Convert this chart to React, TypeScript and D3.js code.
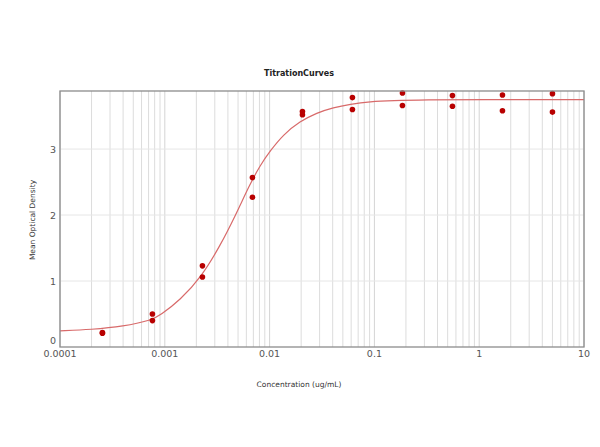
import { useMemo } from 'react'
import * as d3 from 'd3'

// replicate measurements, 1:3 serial dilution (ug/mL)
const concentrations = [0.000254, 0.000762, 0.002286, 0.00686, 0.02058, 0.0617, 0.1852, 0.5556, 1.667, 5]
const odRep1 = [0.22, 0.5, 1.23, 2.57, 3.57, 3.78, 3.85, 3.81, 3.82, 3.84]
const odRep2 = [0.21, 0.4, 1.06, 2.27, 3.52, 3.6, 3.66, 3.65, 3.58, 3.56]

// fitted curve
const curveConc = [0.0001, 0.0002, 0.0004, 0.00076, 0.0009, 0.0014, 0.00225, 0.00336, 0.00468, 0.0065, 0.0081, 0.0101, 0.01352, 0.0195, 0.0282, 0.0406, 0.0585, 0.0908, 0.15, 0.3, 1, 10]
const curveOd = [0.245, 0.265, 0.31, 0.41, 0.48, 0.71, 1.07, 1.53, 1.98, 2.47, 2.75, 2.97, 3.22, 3.42, 3.55, 3.63, 3.68, 3.72, 3.735, 3.745, 3.75, 3.75]

const xTickValues = [0.0001, 0.001, 0.01, 0.1, 1, 10]
const xTickLabels = ['0.0001', '0.001', '0.01', '0.1', '1', '10']
const yTickValues = [0, 1, 2, 3]

const W = 600
const H = 447
const PLOT = { l: 60, r: 584, t: 91, b: 347 }
const FONT = 'Tahoma, "DejaVu Sans", Verdana, sans-serif'

export default function App() {
  const x = useMemo(() => d3.scaleLog().domain([0.0001, 10]).range([PLOT.l, PLOT.r]), [])
  const y = useMemo(() => d3.scaleLinear().domain([0, 3.88]).range([PLOT.b, PLOT.t]), [])

  // minor log gridlines 2..9 per decade
  const minor: number[] = []
  for (let e = -4; e < 1; e++) for (let m = 2; m <= 9; m++) minor.push(m * Math.pow(10, e))

  const pts = curveConc.map((c, i) => [c, curveOd[i]] as [number, number])
  const line = d3.line<[number, number]>().x((d) => x(d[0])).y((d) => y(d[1])).curve(d3.curveBasis)

  const markers = concentrations.flatMap((c, i) => [
    { c, v: odRep1[i] },
    { c, v: odRep2[i] },
  ])

  return (
    <svg width={W} height={H} style={{ position: 'absolute', left: 0, top: 0, background: '#fff' }} fontFamily={FONT}>
      <rect width={W} height={H} fill="#fff" />
      {minor.map((v) => (
        <line key={'m' + v} x1={x(v)} x2={x(v)} y1={PLOT.t} y2={PLOT.b} stroke="#dcdcdc" strokeWidth={1} />
      ))}
      {xTickValues.map((v) => (
        <line key={'M' + v} x1={x(v)} x2={x(v)} y1={PLOT.t} y2={PLOT.b} stroke="#d4d4d4" strokeWidth={1} />
      ))}
      {yTickValues.slice(1).map((v) => (
        <line key={'h' + v} x1={PLOT.l} x2={PLOT.r} y1={y(v)} y2={y(v)} stroke="#e6e6e6" strokeWidth={1} />
      ))}

      <path d={line(pts) ?? ''} fill="none" stroke="#d86a6a" strokeWidth={1.2} />

      {markers.map((m, i) => (
        <circle key={i} cx={x(m.c)} cy={y(m.v)} r={2.8} fill="#b80000" />
      ))}

      <rect x={PLOT.l} y={PLOT.t} width={PLOT.r - PLOT.l} height={PLOT.b - PLOT.t} fill="none" stroke="#8c8c8c" strokeWidth={1.3} />

      {xTickValues.map((v, i) => (
        <text key={'xt' + v} x={x(v)} y={357} textAnchor="middle" fontSize={9.5} fill="#555">
          {xTickLabels[i]}
        </text>
      ))}
      {yTickValues.map((v) => (
        <text key={'yt' + v} x={56} y={v === 0 ? y(v) - 3 : y(v) + 3.5} textAnchor="end" fontSize={9.5} fill="#555">
          {v}
        </text>
      ))}

      <text x={299} y={76} textAnchor="middle" fontSize={8} fontWeight="bold" fill="#222">TitrationCurves</text>
      <text x={299} y={387} textAnchor="middle" fontSize={7.5} fill="#333">Concentration (ug/mL)</text>
      <text transform="translate(35,220) rotate(-90)" textAnchor="middle" fontSize={7.5} fill="#333">Mean Optical Density</text>
    </svg>
  )
}
